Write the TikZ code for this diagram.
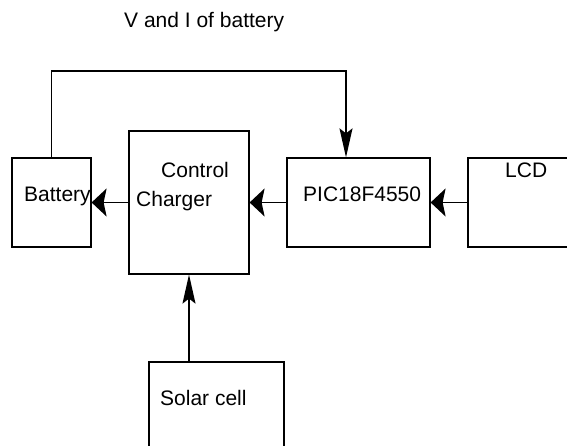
\documentclass[tikz,border=0pt]{standalone}
\usepackage{fontspec}
\setmainfont{Liberation Sans}
\usetikzlibrary{arrows.meta}
\tikzset{block/.style = {shape=rectangle,draw,line width=1.2pt,inner sep=0pt}}
\tikzset{lbl/.style = {anchor=base west,inner sep=0pt,font=\fontsize{21}{25}\selectfont}}
\tikzset{hedge/.style = {line width=1.6pt,-{Stealth[length=15pt,width=28pt,inset=3pt]}}}
\tikzset{vedge/.style = {line width=1.6pt,-{Stealth[length=29pt,width=13pt,inset=5pt]}}}

\begin{document}
\begin{tikzpicture}[x=1pt,y=1pt]
\clip (0,0) rectangle (567,446);
% blocks
\node[block,minimum width=79pt,minimum height=89pt] (battery) at (51.5,243.5) {};
\node[block,minimum width=120pt,minimum height=143pt] (charger) at (189,243.5) {};
\node[block,minimum width=143pt,minimum height=89pt] (pic) at (358.5,243.5) {};
\node[block,minimum width=152pt,minimum height=89pt] (lcd) at (544,243.5) {};
\node[block,minimum width=135pt,minimum height=124pt] (solar) at (216.5,22) {};
\coordinate (fb) at (346,375);

% texts
\node[lbl] (title) at (124,418) {V and I of battery};
\node[lbl] (batterytext) at (24,244.3) {Battery};
\node[lbl] (controltext) at (161,268.3) {Control};
\node[lbl] (chargertext) at (136,239.3) {Charger};
\node[lbl] (pictext) at (303,244.3) {PIC18F4550};
\node[lbl] (lcdtext) at (505,268) {LCD};
\node[lbl] (solartext) at (160,40.3) {Solar cell};

%edges
\draw[hedge] (charger.west) to (battery.east);
\draw[hedge] (pic.west) to (charger.east);
\draw[hedge] (lcd.west) to (pic.east);
\draw[vedge] (solar.north -| charger.south) to (charger.south);
\draw[vedge] (battery.north) |- (fb) -- (fb |- pic.north);
\end{tikzpicture}
\end{document}
